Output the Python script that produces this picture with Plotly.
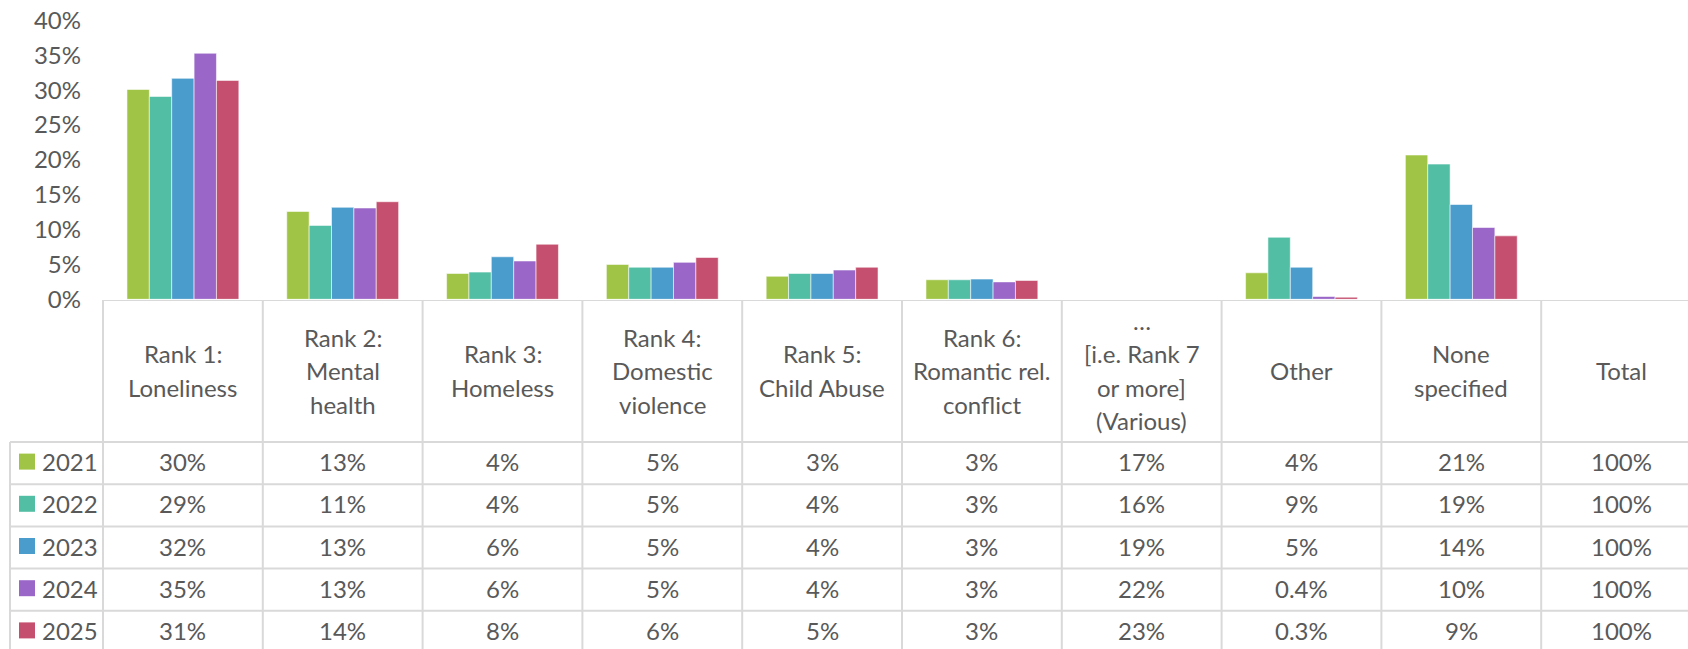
import math
import plotly.graph_objects as go

# ---- data -------------------------------------------------------------
categories = [
    "Rank 1:\nLoneliness",
    "Rank 2:\nMental\nhealth",
    "Rank 3:\nHomeless",
    "Rank 4:\nDomestic\nviolence",
    "Rank 5:\nChild Abuse",
    "Rank 6:\nRomantic rel.\nconflict",
    "\u2026\n[i.e. Rank 7\nor more]\n(Various)",
    "Other",
    "None\nspecified",
    "Total",
]
# categories that get bars in the chart (the rest only appear in the table)
charted = [True, True, True, True, True, True, False, True, True, False]

years = ["2021", "2022", "2023", "2024", "2025"]
share_2021 = [30.1, 12.6, 3.7, 5.0, 3.3, 2.8, 17.0, 3.8, 20.7, 100.0]
share_2022 = [29.1, 10.6, 3.9, 4.6, 3.7, 2.8, 16.0, 8.9, 19.4, 100.0]
share_2023 = [31.7, 13.2, 6.1, 4.6, 3.7, 2.9, 19.0, 4.6, 13.6, 100.0]
share_2024 = [35.3, 13.1, 5.5, 5.3, 4.2, 2.5, 22.0, 0.4, 10.3, 100.0]
share_2025 = [31.4, 14.0, 7.9, 6.0, 4.6, 2.7, 23.0, 0.3, 9.1, 100.0]
series = [share_2021, share_2022, share_2023, share_2024, share_2025]

colors = ["#A0C446", "#52BEA4", "#4A9CCC", "#9A67C8", "#C44F6E"]

y_ticks = [0, 5, 10, 15, 20, 25, 30, 35, 40]
y_tick_labels = [f"{t}%" for t in y_ticks]

# ---- layout constants -------------------------------------------------
W, H = 1688, 649
FONT = "Lato"
TXT = "#595959"
GRID = "#D9D9D9"
COL_W = 159.8          # px per category column
TABLE_X0 = 103         # px where the first category column starts
TABLE_TOP = 300        # px where the data table starts
HEAD_H = 142           # header row height (px)
ROW_H = 42.2           # data row height (px)
LINE_GAP = 33.5        # spacing of wrapped header lines (px)
LEGEND_X0 = 10         # px left edge of the legend column
FS = 24


def px_to_x(px):
    return (px - TABLE_X0) / COL_W - 0.5


x_lo, x_hi = px_to_x(0), px_to_x(W)
table_h = H - TABLE_TOP


def fmt(v):
    if v < 1:
        return f"{v:.1f}%"
    return f"{math.floor(v + 0.5)}%"


fig = go.Figure()

# ---- bars -------------------------------------------------------------
xs = [i for i, c in enumerate(charted) if c]
for name, vals, col in zip(years, series, colors):
    fig.add_trace(go.Bar(
        x=xs,
        y=[vals[i] for i in xs],
        name=name,
        marker=dict(color=col, line=dict(color="rgba(255,255,255,0.55)", width=1)),
        xaxis="x", yaxis="y",
        showlegend=False,
        hovertemplate=name + ": %{y:.1f}%<extra></extra>",
    ))

# ---- data table -------------------------------------------------------
shapes = []
annotations = []

# top line (category axis) and column separators
shapes.append(dict(type="line", xref="x", yref="y2", x0=-0.5, x1=x_hi, y0=0, y1=0,
                   line=dict(color=GRID, width=2)))
for k in range(len(categories) + 1):
    shapes.append(dict(type="line", xref="x", yref="y2", x0=k - 0.5, x1=k - 0.5,
                       y0=0, y1=table_h, line=dict(color=GRID, width=2)))

# legend column left border and row separators
legend_left = px_to_x(LEGEND_X0)
shapes.append(dict(type="line", xref="x", yref="y2", x0=legend_left, x1=legend_left,
                   y0=HEAD_H, y1=table_h, line=dict(color=GRID, width=2)))
for r in range(len(years) + 1):
    yy = HEAD_H + r * ROW_H
    if yy <= table_h:
        shapes.append(dict(type="line", xref="x", yref="y2", x0=legend_left, x1=x_hi,
                           y0=yy, y1=yy, line=dict(color=GRID, width=2)))

# header labels
head_mid = 70.5
for i, cat in enumerate(categories):
    lines = cat.split("\n")
    n = len(lines)
    for j, ln in enumerate(lines):
        annotations.append(dict(
            x=i, y=head_mid + (j - (n - 1) / 2) * LINE_GAP, xref="x", yref="y2",
            text=ln, showarrow=False, xanchor="center", yanchor="middle",
            font=dict(family=FONT, size=FS, color=TXT)))

# rows: legend key + values
key_x0, key_x1 = px_to_x(19), px_to_x(35)
for r, (name, vals, col) in enumerate(zip(years, series, colors)):
    yc = HEAD_H + (r + 0.5) * ROW_H - 1.5
    shapes.append(dict(type="rect", xref="x", yref="y2", x0=key_x0, x1=key_x1,
                       y0=yc - 8, y1=yc + 8, fillcolor=col, line=dict(width=0)))
    annotations.append(dict(
        x=px_to_x(40), y=yc, xref="x", yref="y2", text=name, showarrow=False,
        xanchor="left", yanchor="middle",
        font=dict(family=FONT, size=FS, color=TXT)))
    for i, v in enumerate(vals):
        annotations.append(dict(
            x=i, y=yc, xref="x", yref="y2", text=fmt(v), showarrow=False,
            xanchor="center", yanchor="middle",
            font=dict(family=FONT, size=FS, color=TXT)))

y_bottom = 1 - 299.3 / H
y_top = 1 - 20.5 / H

fig.update_layout(
    width=W, height=H,
    margin=dict(l=0, r=0, t=0, b=0, pad=0, autoexpand=False),
    paper_bgcolor="white", plot_bgcolor="rgba(0,0,0,0)",
    barmode="group", bargap=0.3, bargroupgap=0,
    xaxis=dict(domain=[0, 1], range=[x_lo, x_hi], showticklabels=False,
               showgrid=False, zeroline=False, showline=False, ticks="",
               automargin=False, fixedrange=True),
    yaxis=dict(domain=[y_bottom, y_top], range=[0, 40], tickvals=y_ticks,
               ticktext=y_tick_labels, showgrid=False, zeroline=False,
               showline=False, ticks="", anchor="free", position=0.048,
               automargin=False, fixedrange=True,
               tickfont=dict(family=FONT, size=FS, color=TXT)),
    yaxis2=dict(domain=[0, 1 - TABLE_TOP / H], range=[table_h, 0], visible=False,
                anchor="x", automargin=False, fixedrange=True),
    shapes=shapes,
    annotations=annotations,
)

fig.write_html("out.html", config={"displayModeBar": False})
